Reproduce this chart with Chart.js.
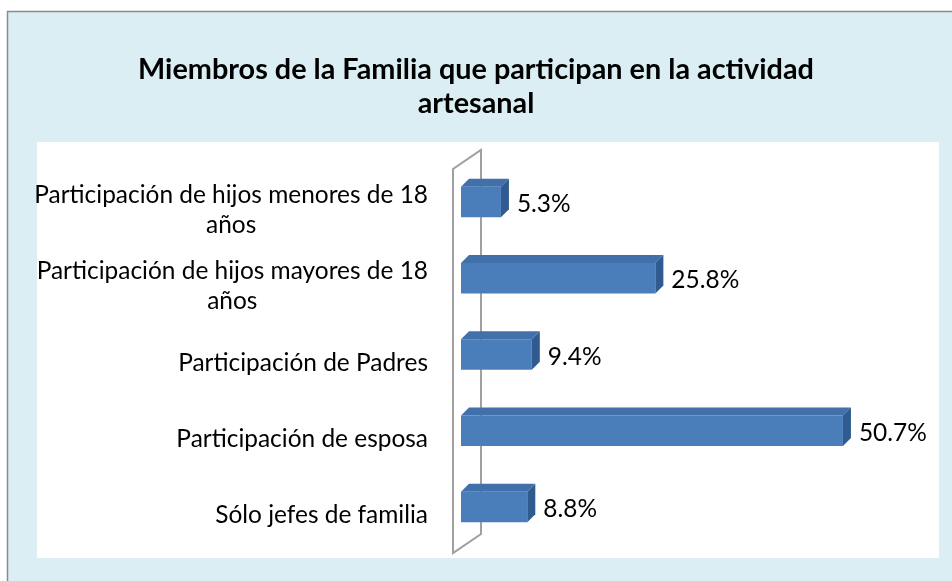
<!DOCTYPE html>
<html>
<head>
<meta charset="utf-8">
<script src="https://cdn.jsdelivr.net/npm/chart.js@4.4.1/dist/chart.umd.min.js"></script>
<style>
  html, body { margin: 0; padding: 0; background: #ffffff; }
  canvas { display: block; }
</style>
</head>
<body>
<canvas id="c" width="952" height="581"></canvas>
<script>
// ---- data ----
const categories = [
  ['Participación de hijos menores de 18', 'años'],
  ['Participación de hijos mayores de 18', 'años'],
  'Participación de Padres',
  'Participación de esposa',
  'Sólo jefes de familia'
];
const values = [5.3, 25.8, 9.4, 50.7, 8.8];
const titleLines = ['Miembros de la Familia que participan en la actividad', 'artesanal'];

// ---- font fitting (Calibri substitute) ----
const FAMILY = 'Lato, "Open Sans", "DejaVu Sans", sans-serif';
const mctx = document.createElement('canvas').getContext('2d');
function fitSize(text, weight, target) {
  mctx.font = weight + ' 100px ' + FAMILY;
  return 100 * target / mctx.measureText(text).width;
}
const labelSize = fitSize('Participación de Padres', 'normal', 250);
const titleSize = fitSize(titleLines[0], 'bold', 676);

const DEPTH = 8;

const framePlugin = {
  id: 'frame',
  beforeDraw(chart) {
    const ctx = chart.ctx;
    ctx.save();
    ctx.fillStyle = '#ffffff';
    ctx.fillRect(0, 0, chart.width, chart.height);
    ctx.fillStyle = '#DAEEF3';
    ctx.fillRect(7, 11, chart.width, chart.height);
    ctx.strokeStyle = '#8a8a8a';
    ctx.lineWidth = 1.5;
    ctx.beginPath();
    ctx.moveTo(7.5, chart.height + 5);
    ctx.lineTo(7.5, 11.5);
    ctx.lineTo(chart.width + 5, 11.5);
    ctx.stroke();
    ctx.fillStyle = '#ffffff';
    ctx.fillRect(37, 142, 902, 416);
    // title
    ctx.fillStyle = '#000000';
    ctx.font = 'bold ' + titleSize.toFixed(2) + 'px ' + FAMILY;
    ctx.textAlign = 'center';
    ctx.textBaseline = 'alphabetic';
    titleLines.forEach((t, k) => ctx.fillText(t, 476, 79 + k * 34));
    ctx.restore();
  },
  beforeDatasetsDraw(chart) {
    // 3D back wall
    const ctx = chart.ctx;
    const a = chart.chartArea;
    const x0 = chart.scales.x.getPixelForValue(0);
    const fx = x0 - 8, bx = x0 + 20;
    ctx.save();
    ctx.strokeStyle = '#a0a0a0';
    ctx.lineWidth = 2;
    ctx.beginPath();
    ctx.moveTo(fx, a.bottom + 8);
    ctx.lineTo(fx, a.top + 5);
    ctx.lineTo(bx, a.top - 14);
    ctx.lineTo(bx, a.bottom - 11);
    ctx.closePath();
    ctx.stroke();
    ctx.restore();
  },
  afterDatasetsDraw(chart) {
    const ctx = chart.ctx;
    const meta = chart.getDatasetMeta(0);
    ctx.save();
    meta.data.forEach((bar, i) => {
      const p = bar.getProps(['x', 'y', 'base', 'height'], true);
      const top = p.y - p.height / 2, bottom = p.y + p.height / 2;
      const left = p.base, right = p.x;
      // top face
      ctx.fillStyle = '#4170AA';
      ctx.beginPath();
      ctx.moveTo(left, top);
      ctx.lineTo(left + DEPTH, top - DEPTH);
      ctx.lineTo(right + DEPTH, top - DEPTH);
      ctx.lineTo(right, top);
      ctx.closePath();
      ctx.fill();
      // right face
      ctx.fillStyle = '#2F5B90';
      ctx.beginPath();
      ctx.moveTo(right, top);
      ctx.lineTo(right + DEPTH, top - DEPTH);
      ctx.lineTo(right + DEPTH, bottom - DEPTH);
      ctx.lineTo(right, bottom);
      ctx.closePath();
      ctx.fill();
      // value label
      ctx.fillStyle = '#000000';
      ctx.font = 'normal ' + labelSize.toFixed(2) + 'px ' + FAMILY;
      ctx.textAlign = 'left';
      ctx.textBaseline = 'alphabetic';
      ctx.fillText(values[i].toFixed(1) + '%', right + 16, p.y + 10);
    });
    // category labels
    const yScale = chart.scales.y;
    ctx.font = 'normal ' + labelSize.toFixed(2) + 'px ' + FAMILY;
    ctx.fillStyle = '#000000';
    ctx.textAlign = 'center';
    ctx.textBaseline = 'alphabetic';
    const rightEdge = 428;
    categories.forEach((lab, i) => {
      const lines = Array.isArray(lab) ? lab : [lab];
      const w = Math.max(...lines.map(l => ctx.measureText(l).width));
      const cx = rightEdge - w / 2;
      const cy = yScale.getPixelForTick(i) + 7.5;
      const lh = 30;
      const first = cy - (lines.length - 1) * lh / 2 + 8.5;
      lines.forEach((l, k) => ctx.fillText(l, cx, first + k * lh));
    });
    ctx.restore();
  }
};

new Chart(document.getElementById('c'), {
  type: 'bar',
  data: {
    labels: categories,
    datasets: [{
      data: values,
      backgroundColor: '#4A7EBB',
      borderWidth: 0,
      barPercentage: 0.4,
      categoryPercentage: 1.0
    }]
  },
  options: {
    indexAxis: 'y',
    responsive: false,
    devicePixelRatio: 1,
    animation: false,
    layout: { padding: { left: 461, right: 39, top: 164, bottom: 36 } },
    scales: {
      x: { display: false, min: 0, max: 60 },
      y: { display: false, offset: true }
    },
    plugins: {
      legend: { display: false },
      tooltip: { enabled: false },
      title: { display: false }
    }
  },
  plugins: [framePlugin]
});
</script>
</body>
</html>
